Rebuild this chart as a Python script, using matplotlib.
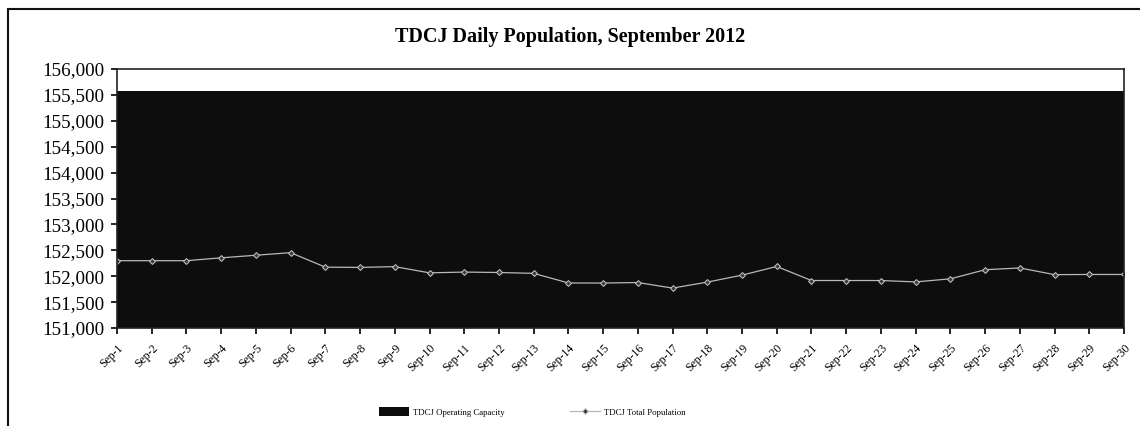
import matplotlib.pyplot as plt
from matplotlib.patches import Rectangle
from matplotlib.ticker import FuncFormatter

# TDCJ daily population, September 2012
days = [f"Sep-{d}" for d in range(1, 31)]
total_population = [
    152300, 152300, 152300, 152355, 152405, 152455, 152175, 152170, 152185, 152065,
    152080, 152072, 152055, 151870, 151868, 151878, 151771, 151886, 152021, 152188,
    151917, 151917, 151917, 151890, 151950, 152125, 152160, 152030, 152034, 152034,
]
operating_capacity = 155580

plt.rcParams['font.family'] = ['Liberation Serif', 'DejaVu Serif']

fig = plt.figure(figsize=(11.4, 4.26), dpi=100)
ax = fig.add_axes([0.1026, 0.23, 0.8834, 0.608])

x = list(range(len(days)))
ax.fill_between(x, 0, operating_capacity, color='#0d0d0d', linewidth=0,
                label='TDCJ Operating Capacity')
ax.plot(x, total_population, color='#b8b8b8', linewidth=0.9, marker='D',
        markersize=3, markerfacecolor='#3a3a3a', markeredgecolor='#c8c8c8',
        markeredgewidth=0.7, label='TDCJ Total Population')

ax.set_xlim(0, len(days) - 1)
ax.set_ylim(151000, 156000)
ax.set_yticks(range(151000, 156001, 500))
ax.yaxis.set_major_formatter(FuncFormatter(lambda v, p: f"{int(v):,}"))
ax.set_xticks(x)
ax.set_xticklabels(days, rotation=45, ha='right', rotation_mode='anchor', fontsize=8.5)
ax.tick_params(axis='y', labelsize=13.7, length=4, width=1.2, direction='out', pad=5)
ax.tick_params(axis='x', length=4, width=1.2, direction='out', pad=6)
for side in ['left', 'bottom', 'top', 'right']:
    ax.spines[side].set_linewidth(1.2)
    ax.spines[side].set_color('#222222')

fig.text(0.5, 0.912, 'TDCJ Daily Population, September 2012', ha='center',
         va='center', fontsize=14.5, fontweight='bold')

fig.legend(loc='center', bbox_to_anchor=(0.467, 0.033), ncol=2, frameon=False,
           fontsize=6.3, handlelength=3.4, handleheight=1.2, handletextpad=0.5,
           columnspacing=7.5)

# chart frame
fig.patches.append(Rectangle((8 / 1140, -0.1), 1.2, 1 - 9 / 426 + 0.1,
                             transform=fig.transFigure, fill=False,
                             edgecolor='#111111', linewidth=1.5))

plt.savefig('out.png', dpi=100)
